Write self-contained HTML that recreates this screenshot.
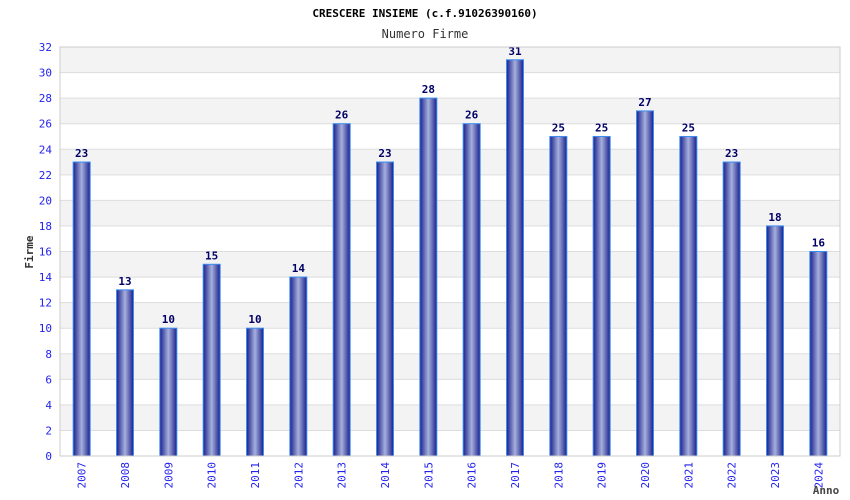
<!DOCTYPE html>
<html><head><meta charset="utf-8"><style>
body{margin:0;background:#fff;}
svg{display:block;font-family:"DejaVu Sans Mono","Liberation Mono",monospace;}
</style></head><body>
<svg id="c" width="850" height="500">
<defs><linearGradient id="g" x1="0" x2="1" y1="0" y2="0">
<stop offset="0" stop-color="#1a1f8c"/><stop offset="0.5" stop-color="#a6b0dc"/><stop offset="1" stop-color="#1a1f8c"/>
</linearGradient></defs>
<text x="425" y="17" text-anchor="middle" font-size="11" font-weight="bold" fill="#000">CRESCERE INSIEME (c.f.91026390160)</text>
<text x="425" y="38" text-anchor="middle" font-size="12" fill="#333">Numero Firme</text>
<g id="grid"></g><g id="bars"></g><g id="axes"></g>
<text x="33" y="252" text-anchor="middle" font-size="11" font-weight="bold" fill="#333" transform="rotate(-90 33 252)">Firme</text>
<text x="826" y="494" text-anchor="middle" font-size="11" font-weight="bold" fill="#444">Anno</text>
</svg>
<script>
const categories=["2007","2008","2009","2010","2011","2012","2013","2014","2015","2016","2017","2018","2019","2020","2021","2022","2023","2024"];
const values=[23,13,10,15,10,14,26,23,28,26,31,25,25,27,25,23,18,16];
const yTicks=[0,2,4,6,8,10,12,14,16,18,20,22,24,26,28,30,32];
const L=60,R=840,T=47,B=456,maxV=32;
const ns="http://www.w3.org/2000/svg";
const y=v=>B-(v/maxV)*(B-T);
const slot=(R-L)/categories.length;
const xc=i=>L+slot*(i+0.5);
function mk(t,a,p){const e=document.createElementNS(ns,t);for(const k in a)e.setAttribute(k,a[k]);p.appendChild(e);return e;}
const grid=document.getElementById('grid'),bars=document.getElementById('bars'),axes=document.getElementById('axes');
for(let i=0;i<yTicks.length-1;i++){
 const r=mk('rect',{x:L,y:y(yTicks[i+1]),width:R-L,height:y(yTicks[i])-y(yTicks[i+1]),fill:((yTicks.length-2-i)%2==0)?'#f3f3f3':'#fff'},grid);
 
 
}
yTicks.forEach(t=>{
 const l=mk('line',{x1:L,x2:R,y1:y(t),y2:y(t),stroke:'#ddd','stroke-width':1},grid);
 
 
 const tx=mk('text',{x:L-8,y:y(t)+4,'text-anchor':'end','font-size':11,fill:'#2222ee'},axes);
 tx.textContent=t;
 
 
});
const fr=mk('rect',{x:L,y:T,width:R-L,height:B-T,fill:'none',stroke:'#ccc'},axes);


categories.forEach((c,i)=>{
 const v=values[i],w=17;
 const b=mk('rect',{x:xc(i)-w/2,y:y(v),width:w,height:B-y(v),fill:'url(#g)',stroke:'#3a8cf0','stroke-width':1},bars);
 
 
 const lb=mk('text',{x:xc(i),y:y(v)-5,'text-anchor':'middle','font-size':11,'font-weight':'bold',fill:'#000066'},bars);
 lb.textContent=v;
 
 
 const xt=mk('text',{x:xc(i)+4,y:B+6,'text-anchor':'end','font-size':11,fill:'#2222ee',transform:`rotate(-90 ${xc(i)+4} ${B+6})`},axes);
 xt.textContent=c;
 
 
});
</script>
</body></html>
